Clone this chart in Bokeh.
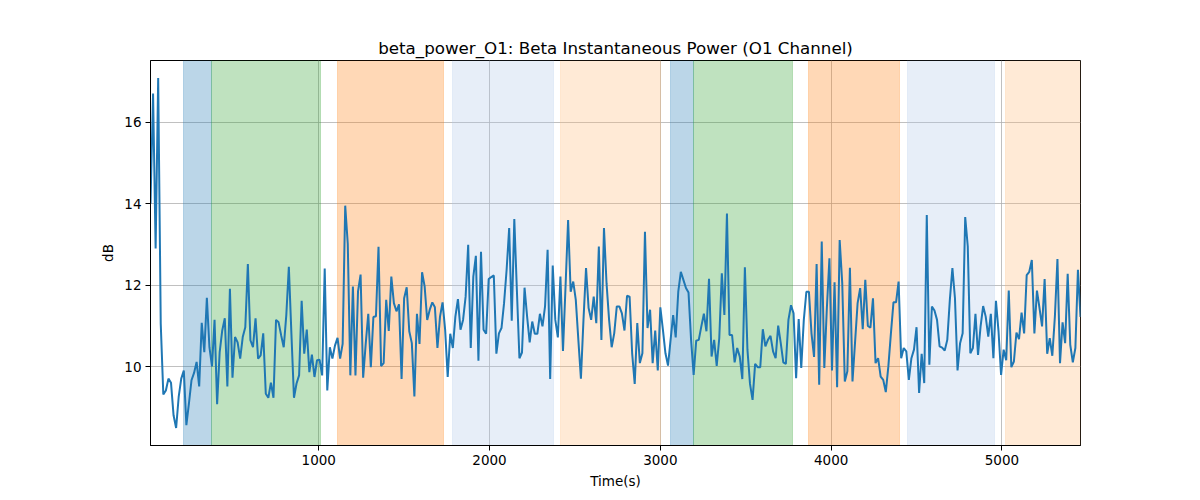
from bokeh.plotting import figure
from bokeh.models import FixedTicker, Range1d
from bokeh.embed import file_html
from bokeh.resources import INLINE

# beta power (dB), one sample every 15 s starting at t=15
step_s = 15
beta_power_db = [
    14.0, 16.7, 12.9, 17.08, 11.05, 9.32, 9.42, 9.71, 9.61, 8.81,
    8.50, 9.26, 9.71, 9.91, 8.57, 9.10, 9.67, 9.85, 10.12, 9.52,
    11.08, 10.36, 11.69, 10.48, 10.01, 11.15, 9.08, 10.36, 10.89, 11.19,
    9.52, 11.91, 9.73, 10.73, 10.60, 10.20, 10.73, 10.97, 12.52, 10.65,
    10.48, 11.19, 10.20, 10.28, 10.82, 9.34, 9.24, 9.61, 9.24, 11.15,
    11.09, 10.77, 10.48, 11.26, 12.45, 10.81, 9.24, 9.59, 9.79, 11.62,
    10.32, 10.91, 9.87, 10.30, 9.75, 10.16, 10.17, 9.79, 12.41, 9.42,
    10.48, 10.20, 10.52, 10.71, 10.20, 10.56, 13.95, 13.01, 9.79, 11.97,
    9.79, 11.85, 12.26, 9.73, 10.56, 11.30, 9.99, 11.22, 11.24, 12.94,
    10.02, 10.09, 11.64, 10.88, 12.21, 11.56, 11.36, 11.53, 9.70, 11.68,
    11.95, 10.87, 10.58, 9.27, 11.30, 10.56, 12.32, 11.97, 11.15, 11.40,
    11.58, 11.46, 10.46, 11.23, 11.58, 10.91, 9.75, 10.81, 10.46, 11.23,
    11.66, 10.91, 11.15, 11.72, 12.99, 10.46, 12.21, 12.72, 10.15, 12.82,
    10.91, 10.81, 12.15, 12.20, 12.24, 10.32, 10.82, 10.95, 11.56, 12.38,
    13.40, 11.13, 13.62, 11.89, 10.21, 10.35, 11.94, 11.23, 10.60, 11.11,
    10.81, 10.81, 11.30, 10.99, 11.48, 12.87, 9.70, 12.48, 11.15, 10.72,
    12.21, 10.39, 11.97, 13.60, 11.84, 12.09, 11.64, 10.66, 9.71, 11.15,
    12.42, 11.44, 11.15, 11.72, 11.07, 12.95, 10.66, 13.40, 12.05, 11.15,
    10.48, 10.82, 11.48, 11.48, 11.31, 10.89, 11.74, 11.72, 10.33, 9.58,
    11.07, 10.09, 10.33, 13.31, 10.95, 11.40, 10.09, 10.89, 9.91, 11.46,
    10.91, 10.33, 10.03, 10.66, 11.27, 10.72, 11.84, 12.33, 12.13, 11.93,
    11.82, 10.66, 9.80, 10.64, 10.66, 10.99, 11.30, 10.87, 12.16, 10.25,
    10.66, 10.02, 10.70, 12.29, 11.27, 13.76, 10.78, 10.78, 10.11, 10.46,
    10.25, 9.70, 12.44, 10.42, 9.58, 9.19, 10.07, 9.99, 9.99, 10.92,
    10.50, 10.66, 10.76, 10.38, 10.21, 11.01, 10.58, 10.11, 10.07, 11.15,
    11.51, 11.31, 9.72, 11.17, 9.97, 11.15, 11.84, 11.84, 10.82, 10.24,
    12.52, 9.56, 13.07, 9.97, 11.44, 12.66, 9.91, 12.07, 9.50, 13.11,
    12.05, 9.64, 9.89, 12.43, 9.64, 10.60, 11.56, 11.93, 10.92, 12.13,
    11.00, 10.96, 11.68, 10.09, 10.21, 9.76, 9.68, 9.38, 10.01, 10.82,
    11.58, 11.58, 12.09, 10.21, 10.46, 10.38, 9.68, 10.21, 10.42, 10.97,
    9.36, 10.32, 9.60, 13.72, 10.05, 11.48, 11.38, 11.15, 10.50, 10.47,
    10.40, 10.66, 11.64, 12.42, 11.68, 9.91, 10.58, 10.82, 13.67, 12.95,
    10.33, 10.46, 11.30, 10.29, 10.99, 11.49, 11.23, 10.74, 11.30, 10.21,
    11.62, 10.87, 9.80, 10.42, 10.16, 11.87, 9.99, 10.13, 10.84, 10.68,
    11.33, 10.82, 12.25, 12.33, 12.62, 10.82, 11.87, 11.44, 10.99, 12.15,
    10.32, 10.70, 10.27, 11.23, 12.64, 10.09, 11.09, 10.58, 12.28, 10.54,
    10.11, 10.46, 12.38, 11.22,
]
time_s = [step_s * (i + 1) for i in range(len(beta_power_db))]

# shaded phases
span_start = [210, 372, 1112, 1783, 2415, 3060, 3196, 3869, 4447, 5021]
span_end = [372, 1008, 1729, 2374, 3001, 3196, 3772, 4398, 4956, 5500]
span_colors = ["#1f77b4", "#2ca02c", "#ff7f0e", "#aec7e8", "#ffbb78",
               "#1f77b4", "#2ca02c", "#ff7f0e", "#aec7e8", "#ffbb78"]

x_ticks = [1000, 2000, 3000, 4000, 5000]
y_ticks = [10, 12, 14, 16]

FONT = "DejaVu Sans"

p = figure(width=1200, height=500, output_backend="svg", toolbar_location=None,
           x_range=Range1d(15, 5460), y_range=Range1d(8.07, 17.51),
           title="beta_power_O1: Beta Instantaneous Power (O1 Channel)",
           x_axis_label="Time(s)", y_axis_label="dB",
           min_border_left=150, min_border_right=120,
           min_border_top=60, min_border_bottom=55)

p.vstrip(x0=span_start, x1=span_end, fill_color=span_colors, fill_alpha=0.3,
         line_color=span_colors, line_alpha=0.25, line_width=1)
p.line(time_s, beta_power_db, line_color="#1f77b4", line_width=2)

p.title.text_font = FONT
p.title.text_font_size = "16.7px"
p.title.text_font_style = "normal"
p.title.text_color = "black"
p.title.align = "center"
p.title.standoff = 6

p.outline_line_color = "black"
p.outline_line_alpha = 1
p.outline_line_width = 1

p.xaxis.ticker = FixedTicker(ticks=x_ticks)
p.yaxis.ticker = FixedTicker(ticks=y_ticks)
for ax in (p.xaxis, p.yaxis):
    ax.axis_line_color = "black"
    ax.major_tick_line_color = "black"
    ax.major_tick_out = 5
    ax.major_tick_in = 0
    ax.minor_tick_line_color = None
    ax.major_label_text_font = FONT
    ax.major_label_text_font_size = "13.5px"
    ax.major_label_text_color = "black"
    ax.major_label_standoff = 4
    ax.axis_label_text_font = FONT
    ax.axis_label_text_font_size = "13.5px"
    ax.axis_label_text_font_style = "normal"
    ax.axis_label_text_color = "black"
    ax.axis_label_standoff = 5

p.grid.grid_line_color = "#b0b0b0"
p.grid.grid_line_width = 0.8
p.background_fill_color = "white"
p.border_fill_color = "white"

open("out.html", "w").write(file_html(p, INLINE))
